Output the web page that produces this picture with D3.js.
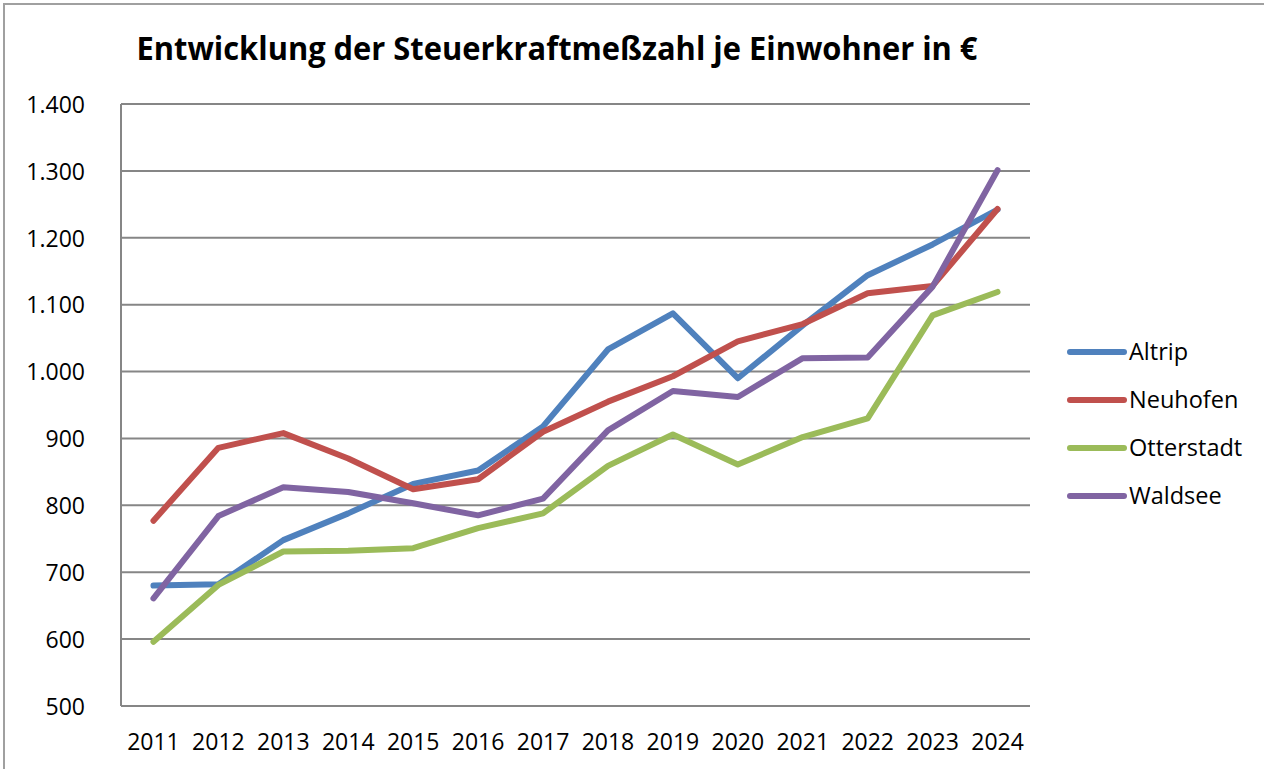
<!DOCTYPE html>
<html>
<head>
<meta charset="utf-8">
<script src="https://cdn.jsdelivr.net/npm/d3@7"></script>
<style>
  html, body { margin: 0; padding: 0; background: #fff; }
  svg { display: block; }
  text { font-family: "Open Sans", "Noto Sans", sans-serif; fill: #000; }
</style>
</head>
<body>
<svg id="chart" width="1264" height="769"></svg>
<script>
const title = "Entwicklung der Steuerkraftmeßzahl je Einwohner in €";
const years = ["2011","2012","2013","2014","2015","2016","2017","2018","2019","2020","2021","2022","2023","2024"];
const seriesNames = ["Altrip","Neuhofen","Otterstadt","Waldsee"];
const altrip     = [680, 682, 748, 788, 832, 852, 918, 1033, 1087, 990, 1069, 1144, 1190, 1242];
const neuhofen   = [777, 886, 908, 870, 824, 839, 910, 955, 993, 1045, 1071, 1117, 1128, 1243];
const otterstadt = [596, 681, 731, 732, 736, 766, 788, 859, 906, 861, 902, 930, 1084, 1119];
const waldsee    = [661, 784, 827, 820, 803, 785, 810, 912, 971, 962, 1020, 1021, 1127, 1301];
const seriesColors = ["#4F81BD","#C0504D","#9BBB59","#8064A2"];
const yTicks = [500,600,700,800,900,1000,1100,1200,1300,1400];

const seriesValues = [altrip, neuhofen, otterstadt, waldsee];
const series = seriesNames.map((name, i) => ({name, color: seriesColors[i], values: seriesValues[i]}));

const svg = d3.select("#chart");
const gridColor = "#868686";

// outer chart border
svg.append("rect")
  .attr("x", 4).attr("y", 4).attr("width", 1300).attr("height", 800)
  .attr("fill", "none").attr("stroke", "#a0a0a0").attr("stroke-width", 2);

const x = d3.scaleBand().domain(years).range([121, 1030]);
const y = d3.scaleLinear().domain([500, 1400]).range([706, 104]);

const de = d3.formatLocale({decimal: ",", thousands: ".", grouping: [3], currency: ["", "€"]});
const fmt = de.format(",d");

// gridlines
svg.append("g").selectAll("line").data(yTicks).join("line")
  .attr("x1", 121).attr("x2", 1030)
  .attr("y1", d => y(d)).attr("y2", d => y(d))
  .attr("stroke", gridColor).attr("stroke-width", 2);

// left axis line
svg.append("line").attr("x1", 121).attr("x2", 121).attr("y1", y(1400)).attr("y2", y(500))
  .attr("stroke", gridColor).attr("stroke-width", 2);

// y labels
const yAxis = svg.append("g").attr("transform", "translate(85,0)")
  .call(d3.axisLeft(y).tickValues(yTicks).tickFormat(fmt).tickSize(0).tickPadding(0));
yAxis.select(".domain").remove();
yAxis.selectAll("text").attr("font-family", "'Open Sans', sans-serif").attr("font-size", 23)
  .attr("fill", "#000").attr("dy", "0.36em");

// x labels
const xAxis = svg.append("g").attr("transform", "translate(0,706)")
  .call(d3.axisBottom(x).tickSize(0).tickPadding(0));
xAxis.select(".domain").remove();
xAxis.selectAll("text").attr("font-family", "'Open Sans', sans-serif").attr("font-size", 23)
  .attr("fill", "#000").attr("y", 44).attr("dy", 0);

// lines
const line = d3.line().x((d, i) => x(years[i]) + x.bandwidth() / 2).y(d => y(d));
svg.append("g").selectAll("path").data(series).join("path")
  .attr("d", d => line(d.values))
  .attr("fill", "none").attr("stroke", d => d.color).attr("stroke-width", 6)
  .attr("stroke-linejoin", "round").attr("stroke-linecap", "round");

// legend
const lg = svg.append("g").selectAll("g").data(series).join("g")
  .attr("transform", (d, i) => `translate(1070,${352 + i * 48})`);
lg.append("line").attr("x1", 0).attr("x2", 54).attr("y1", 0).attr("y2", 0)
  .attr("stroke", d => d.color).attr("stroke-width", 6).attr("stroke-linecap", "round");
lg.append("text").attr("x", 59).attr("y", 0).attr("dy", "0.36em")
  .attr("font-size", 23.5).text(d => d.name);

// title
svg.append("text").attr("x", 557).attr("y", 60).attr("text-anchor", "middle")
  .attr("font-weight", "bold").attr("font-size", 32)
  .attr("textLength", 841).attr("lengthAdjust", "spacingAndGlyphs").text(title);
</script>
</body>
</html>
